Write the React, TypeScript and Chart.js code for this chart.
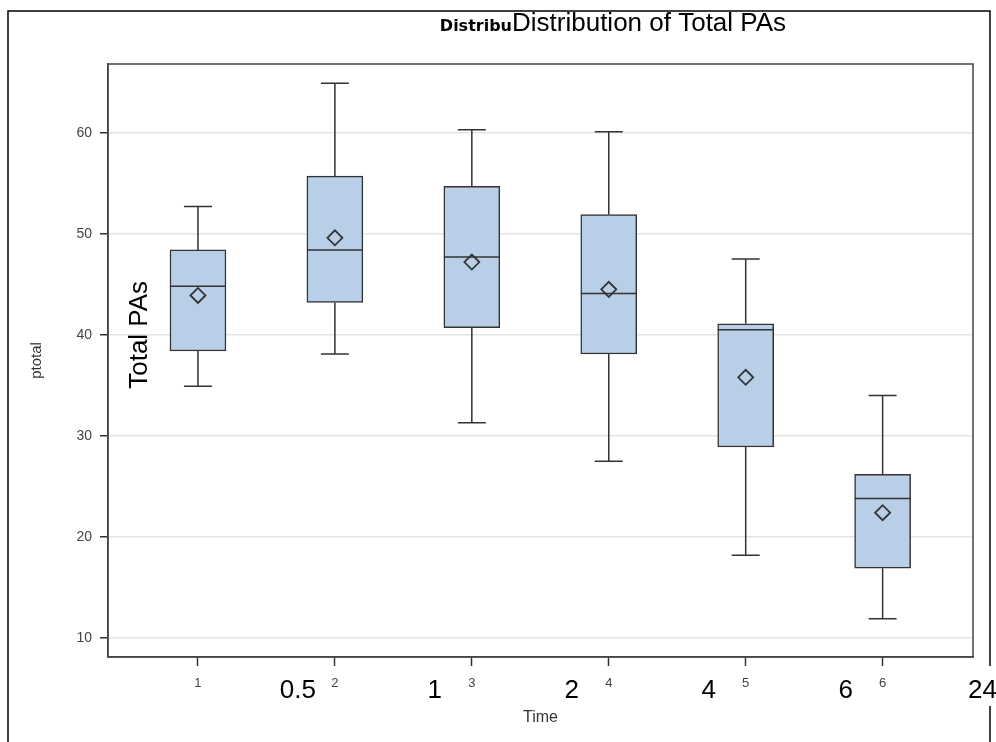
import React, { useEffect, useRef } from 'react';
import { Chart, registerables } from 'chart.js';

Chart.register(...registerables);

// ---- data ----
const categories = [1, 2, 3, 4, 5, 6];
const whiskerLow = [34.9, 38.1, 31.3, 27.5, 18.2, 11.9];
const q1 = [38.4, 43.2, 40.7, 38.1, 28.9, 16.9];
const median = [44.8, 48.4, 47.7, 44.1, 40.5, 23.8];
const q3 = [48.4, 55.7, 54.7, 51.9, 41.1, 26.2];
const whiskerHigh = [52.7, 64.9, 60.3, 60.1, 47.5, 34.0];
const mean = [43.9, 49.6, 47.2, 44.5, 35.8, 22.4];
const yTicks = [10, 20, 30, 40, 50, 60];
const timeLabels = ['0.5', '1', '2', '4', '6', '24'];

const chartTitle = 'Distribution of Total PAs';
const titleFragment = 'Distribu';
const overlayYLabel = 'Total PAs';
const xTitle = 'Time';
const yTitle = 'ptotal';

const FONT = '"Liberation Sans", Arial, sans-serif';
const BOX_FILL = '#B9CFE7';
const LINE = '#333333';

export default function App() {
  const ref = useRef<HTMLCanvasElement>(null);

  useEffect(() => {
    if (!ref.current) return;

    const boxParts = {
      id: 'boxParts',
      beforeDatasetsDraw(chart: any) {
        const { ctx, scales } = chart;
        const x = scales.x, y = scales.y;
        ctx.save();
        ctx.strokeStyle = LINE;
        ctx.lineWidth = 1.5;
        categories.forEach((c, i) => {
          const px = x.getPixelForValue(c);
          const yHi = y.getPixelForValue(whiskerHigh[i]);
          const yLo = y.getPixelForValue(whiskerLow[i]);
          const yQ3 = y.getPixelForValue(q3[i]);
          const yQ1 = y.getPixelForValue(q1[i]);
          ctx.beginPath();
          ctx.moveTo(px, yQ3);
          ctx.lineTo(px, yHi);
          ctx.moveTo(px - 14, yHi);
          ctx.lineTo(px + 14, yHi);
          ctx.moveTo(px, yQ1);
          ctx.lineTo(px, yLo);
          ctx.moveTo(px - 14, yLo);
          ctx.lineTo(px + 14, yLo);
          ctx.stroke();
        });
        ctx.restore();
      },
      afterDatasetDraw(chart: any, args: any) {
        if (args.index !== 1) return;
        const { ctx, scales } = chart;
        const y = scales.y;
        const meta = chart.getDatasetMeta(1);
        ctx.save();
        ctx.strokeStyle = LINE;
        ctx.lineWidth = 1.5;
        meta.data.forEach((el: any, i: number) => {
          const py = y.getPixelForValue(median[i]);
          ctx.beginPath();
          ctx.moveTo(el.x - el.width / 2, py);
          ctx.lineTo(el.x + el.width / 2, py);
          ctx.stroke();
        });
        ctx.restore();
      },
      afterDraw(chart: any) {
        const { ctx, chartArea, scales } = chart;
        const x = scales.x, y = scales.y;
        ctx.save();
        // plot frame
        ctx.strokeStyle = '#444';
        ctx.lineWidth = 1.5;
        ctx.strokeRect(chartArea.left, chartArea.top, chartArea.right - chartArea.left, chartArea.bottom - chartArea.top);
        // outer border
        ctx.strokeStyle = '#000';
        ctx.lineWidth = 1.5;
        ctx.beginPath();
        ctx.moveTo(8, 742);
        ctx.lineTo(8, 11);
        ctx.lineTo(990, 11);
        ctx.lineTo(990, 666);
        ctx.moveTo(990, 706);
        ctx.lineTo(990, 742);
        ctx.stroke();
        // titles
        ctx.fillStyle = '#000';
        ctx.textBaseline = 'alphabetic';
        ctx.font = 'bold 16px "DejaVu Sans", sans-serif';
        ctx.textAlign = 'right';
        ctx.fillText(titleFragment, 512, 31);
        ctx.font = '26px ' + FONT;
        ctx.textAlign = 'left';
        ctx.fillText(chartTitle, 512, 31);
        // time value labels
        ctx.textAlign = 'center';
        ctx.textBaseline = 'middle';
        timeLabels.forEach((t, i) => {
          const px = x.getPixelForValue(categories[0] + i + 1) - 37;
          ctx.fillText(t, px, 691);
        });
        // rotated overlay label
        ctx.save();
        ctx.translate(140, y.getPixelForValue(40.0));
        ctx.rotate(-Math.PI / 2);
        ctx.fillText(overlayYLabel, 0, 0);
        ctx.restore();
        ctx.restore();
      },
    };

    const chart = new Chart(ref.current, {
      type: 'bar',
      data: {
        datasets: [
          {
            type: 'scatter',
            label: 'Mean',
            data: categories.map((c, i) => ({ x: c, y: mean[i] })),
            pointStyle: 'rectRot',
            radius: 7.5,
            borderColor: LINE,
            borderWidth: 1.8,
            backgroundColor: 'rgba(0,0,0,0)',
          } as any,
          {
            type: 'bar',
            label: 'Box',
            data: categories.map((c, i) => ({ x: c, y: [q1[i], q3[i]] })) as any,
            backgroundColor: BOX_FILL,
            borderColor: LINE,
            borderWidth: 1.5,
            borderSkipped: false,
            barThickness: 56,
          } as any,
        ],
      },
      options: {
        responsive: false,
        animation: false,
        layout: { padding: { left: 0, top: 64, right: 23, bottom: 0 } },
        plugins: {
          legend: { display: false },
          tooltip: { enabled: false },
          title: { display: false },
        },
        scales: {
          x: {
            type: 'linear',
            min: 0.343,
            max: 6.66,
            offset: false,
            afterBuildTicks: (axis: any) => {
              axis.ticks = categories.map((v) => ({ value: v }));
            },
            afterFit: (axis: any) => {
              axis.height = 85;
            },
            grid: {
              display: true,
              offset: false,
              drawOnChartArea: false,
              drawTicks: true,
              tickLength: 9,
              tickColor: LINE,
              tickWidth: 1.5,
            },
            border: { display: true, color: '#444', width: 1.5 },
            ticks: {
              padding: 10,
              color: '#444',
              font: { family: FONT, size: 13 },
              callback: (v: any) => String(v),
            },
            title: {
              display: true,
              text: xTitle,
              color: '#333',
              font: { family: FONT, size: 16 },
              padding: { top: 0, bottom: 15 },
            },
          },
          y: {
            type: 'linear',
            min: 8.12,
            max: 66.8,
            afterBuildTicks: (axis: any) => {
              axis.ticks = yTicks.map((v) => ({ value: v }));
            },
            afterFit: (axis: any) => {
              axis.width = 108;
            },
            grid: {
              color: '#E4E4E4',
              lineWidth: 1.5,
              drawTicks: true,
              tickLength: 8,
              tickColor: LINE,
              tickWidth: 1.5,
            },
            border: { display: true, color: '#444', width: 1.5 },
            ticks: {
              padding: 8,
              color: '#444',
              font: { family: FONT, size: 14 },
              callback: (v: any) => String(v),
            },
            title: {
              display: true,
              text: yTitle,
              color: '#333',
              font: { family: FONT, size: 15 },
              padding: { top: 28, bottom: 0 },
            },
          },
        },
      } as any,
      plugins: [boxParts],
    });

    return () => chart.destroy();
  }, []);

  return (
    <div style={{ position: 'fixed', left: 0, top: 0, width: 996, height: 742, background: '#fff' }}>
      <canvas ref={ref} width={996} height={742} style={{ display: 'block' }} />
    </div>
  );
}
